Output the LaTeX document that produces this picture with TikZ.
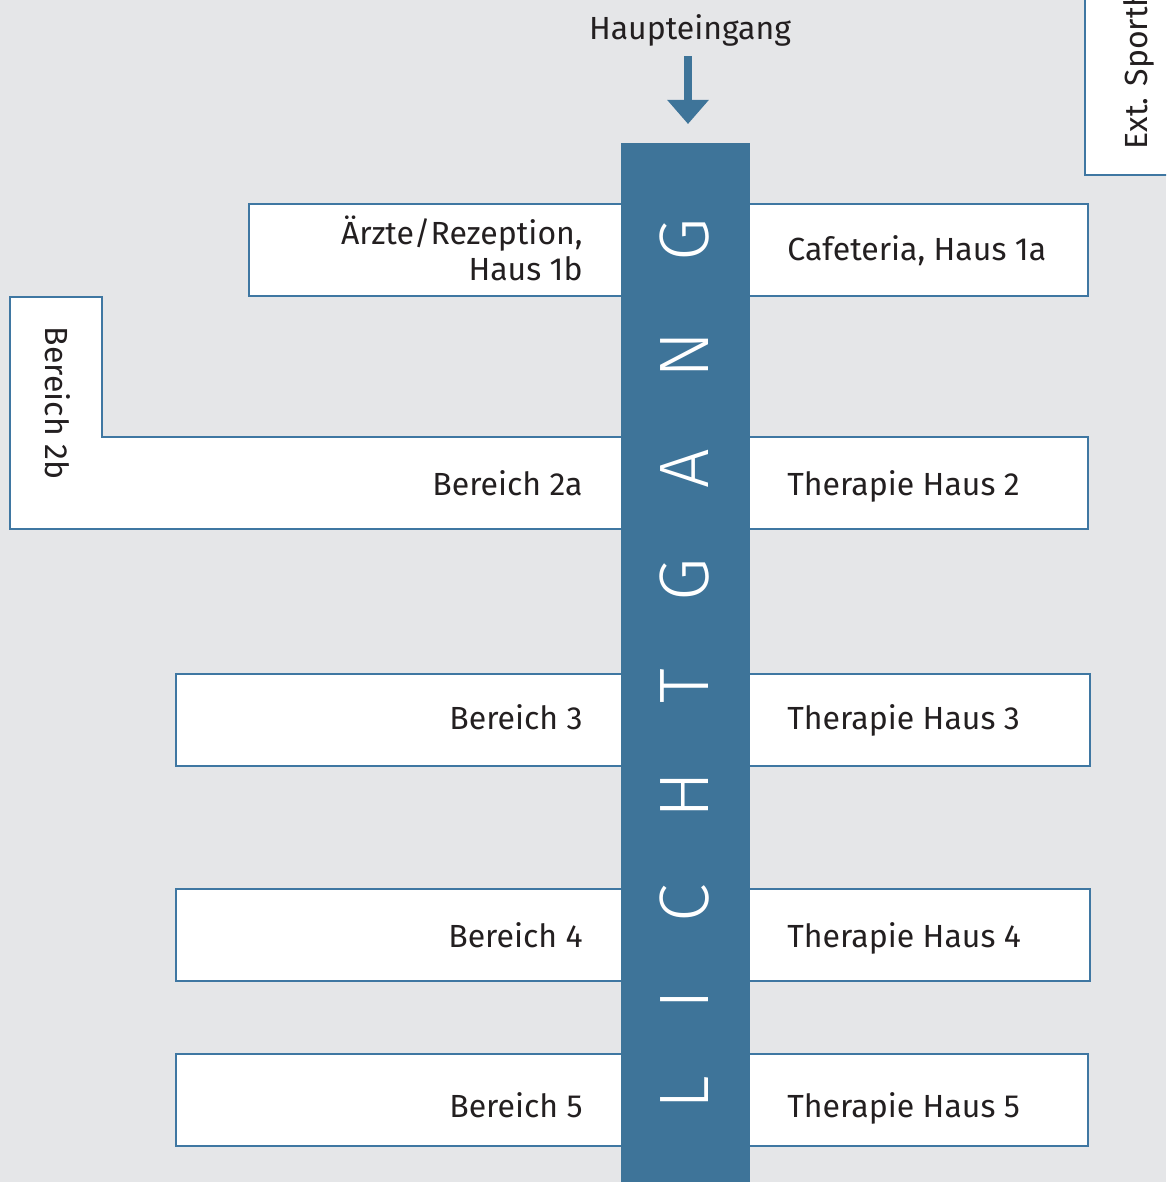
\documentclass[tikz,border=0pt]{standalone}
\usepackage{fontspec}
\setmainfont{Fira Sans}
\newfontfamily\thinfont{Fira Sans Light}
\usetikzlibrary{arrows.meta}

\definecolor{gangblau}{HTML}{3E7499}
\definecolor{rahmen}{HTML}{3F77A2}
\definecolor{grund}{HTML}{E5E6E8}
\definecolor{schrift}{HTML}{231F20}

\tikzset{
  haus/.style={draw=rahmen, line width=1.4pt, fill=white},
  beschr/.style={text=schrift, inner sep=0pt, font=\fontsize{16}{18}\selectfont},
  links/.style={beschr, anchor=base east, align=right},
  rechts/.style={beschr, anchor=base west, align=left},
  buchstabe/.style={text=white, inner sep=0pt, font=\thinfont\fontsize{35}{35}\selectfont, rotate=90},
  pfeil/.style={draw=gangblau, line width=4pt, -{Triangle[width=20pt,length=12pt]}},
}

\begin{document}
\begin{tikzpicture}[x=0.5pt, y=-0.5pt]
  \useasboundingbox (0,0) rectangle (1166,1182);
  \clip (0,0) rectangle (1166,1182);
  \fill[grund] (0,0) rectangle (1166,1182);

  % Haeuser links
  \draw[haus] (249,204) rectangle (640,296);
  \draw[haus] (10,297) -- (102,297) -- (102,437) -- (640,437) -- (640,529) -- (10,529) -- cycle;
  \draw[haus] (176,674) rectangle (640,766);
  \draw[haus] (176,889) rectangle (640,981);
  \draw[haus] (176,1054) rectangle (640,1146);
  % Haeuser rechts
  \draw[haus] (730,204) rectangle (1088,296);
  \draw[haus] (730,437) rectangle (1088,529);
  \draw[haus] (730,674) rectangle (1090,766);
  \draw[haus] (730,889) rectangle (1090,981);
  \draw[haus] (730,1054) rectangle (1088,1146);
  \draw[haus] (1085,-10) rectangle (1190,175);

  % Lichtgang
  \fill[gangblau] (621,143) rectangle (750,1200);
  \coordinate (tuer) at (688,124);
  \foreach \ch/\yy in {L/1093, I/1000, C/903, H/795, T/686, G/580, A/469, N/355, G/240}
    \node[buchstabe] (b\yy) at (685,\yy) {\ch};

  \node[beschr] (haupt) at (690,30) {Haupteingang};
  \draw[pfeil] (tuer |- haupt.south) ++(0,10) -- (tuer);

  \node[links] (arzt) at (583,280) {Ärzte/Rezeption,\\Haus 1b};
  \node[rechts] (cafe) at (787,261) {Cafeteria, Haus 1a};
  \node[links] (ber2a) at (583,495) {Bereich 2a};
  \node[rechts] (th2) at (787,495) {Therapie Haus 2};
  \node[links] (ber3) at (583,729) {Bereich 3};
  \node[rechts] (th3) at (787,729) {Therapie Haus 3};
  \node[links] (ber4) at (583,947) {Bereich 4};
  \node[rechts] (th4) at (787,947) {Therapie Haus 4};
  \node[links] (ber5) at (583,1117) {Bereich 5};
  \node[rechts] (th5) at (787,1117) {Therapie Haus 5};
  \node[beschr, rotate=-90] (ber2b) at (58,403) {Bereich 2b};
  \node[beschr, rotate=90, anchor=base west] (sport) at (1147,150) {Ext. Sporth};
\end{tikzpicture}
\end{document}
